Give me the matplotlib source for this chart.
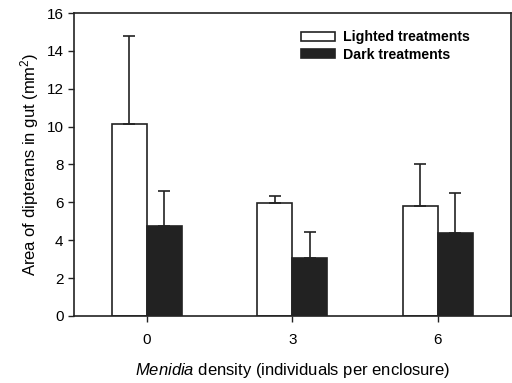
import matplotlib
matplotlib.use('Agg')
import matplotlib.pyplot as plt
import numpy as np

plt.rcParams['font.family'] = ['Liberation Sans', 'DejaVu Sans']
plt.rcParams['mathtext.fontset'] = 'custom'
plt.rcParams['mathtext.rm'] = 'Liberation Sans'
plt.rcParams['mathtext.it'] = 'Liberation Sans:italic'

# data
density = [0, 3, 6]
lighted = [10.15, 5.95, 5.8]
lighted_err = [4.65, 0.4, 2.25]
dark = [4.75, 3.05, 4.4]
dark_err = [1.85, 1.4, 2.1]

fig = plt.figure(figsize=(5.12, 3.83), dpi=100)
ax = fig.add_axes([0.1445, 0.175, 0.853, 0.791])

x = np.array(density, dtype=float)
w = 0.72
ekw = dict(ecolor='#222222', elinewidth=1.2, capsize=4.5, capthick=1.2)
ax.bar(x - w / 2, lighted, w, color='white', edgecolor='#222222', linewidth=1.2,
       yerr=[[0] * 3, lighted_err], error_kw=ekw, label='Lighted treatments')
ax.bar(x + w / 2, dark, w, color='#222222', edgecolor='#222222', linewidth=1.2,
       yerr=[[0] * 3, dark_err], error_kw=ekw, label='Dark treatments')

ax.set_xlim(-1.5, 7.5)
ax.set_ylim(0, 16)
ax.set_yticks(range(0, 17, 2))
ax.set_xticks(density)
ax.tick_params(direction='out', length=4, width=1, labelsize=11, color='#222222')
ax.tick_params(axis='x', pad=8)
for s in ax.spines.values():
    s.set_linewidth(1.2)
    s.set_color('#222222')

ax.set_ylabel('Area of dipterans in gut (mm$^2$)', fontsize=12)
ax.set_xlabel('$\\it{Menidia}$ density (individuals per enclosure)', fontsize=12, labelpad=10)

leg = ax.legend(loc='upper left', bbox_to_anchor=(0.49, 0.985), frameon=False,
                prop={'weight': 'bold', 'size': 10.2}, handlelength=2.4, handleheight=0.6,
                handletextpad=0.6, labelspacing=0.25)

fig.savefig('out.png', dpi=100)
